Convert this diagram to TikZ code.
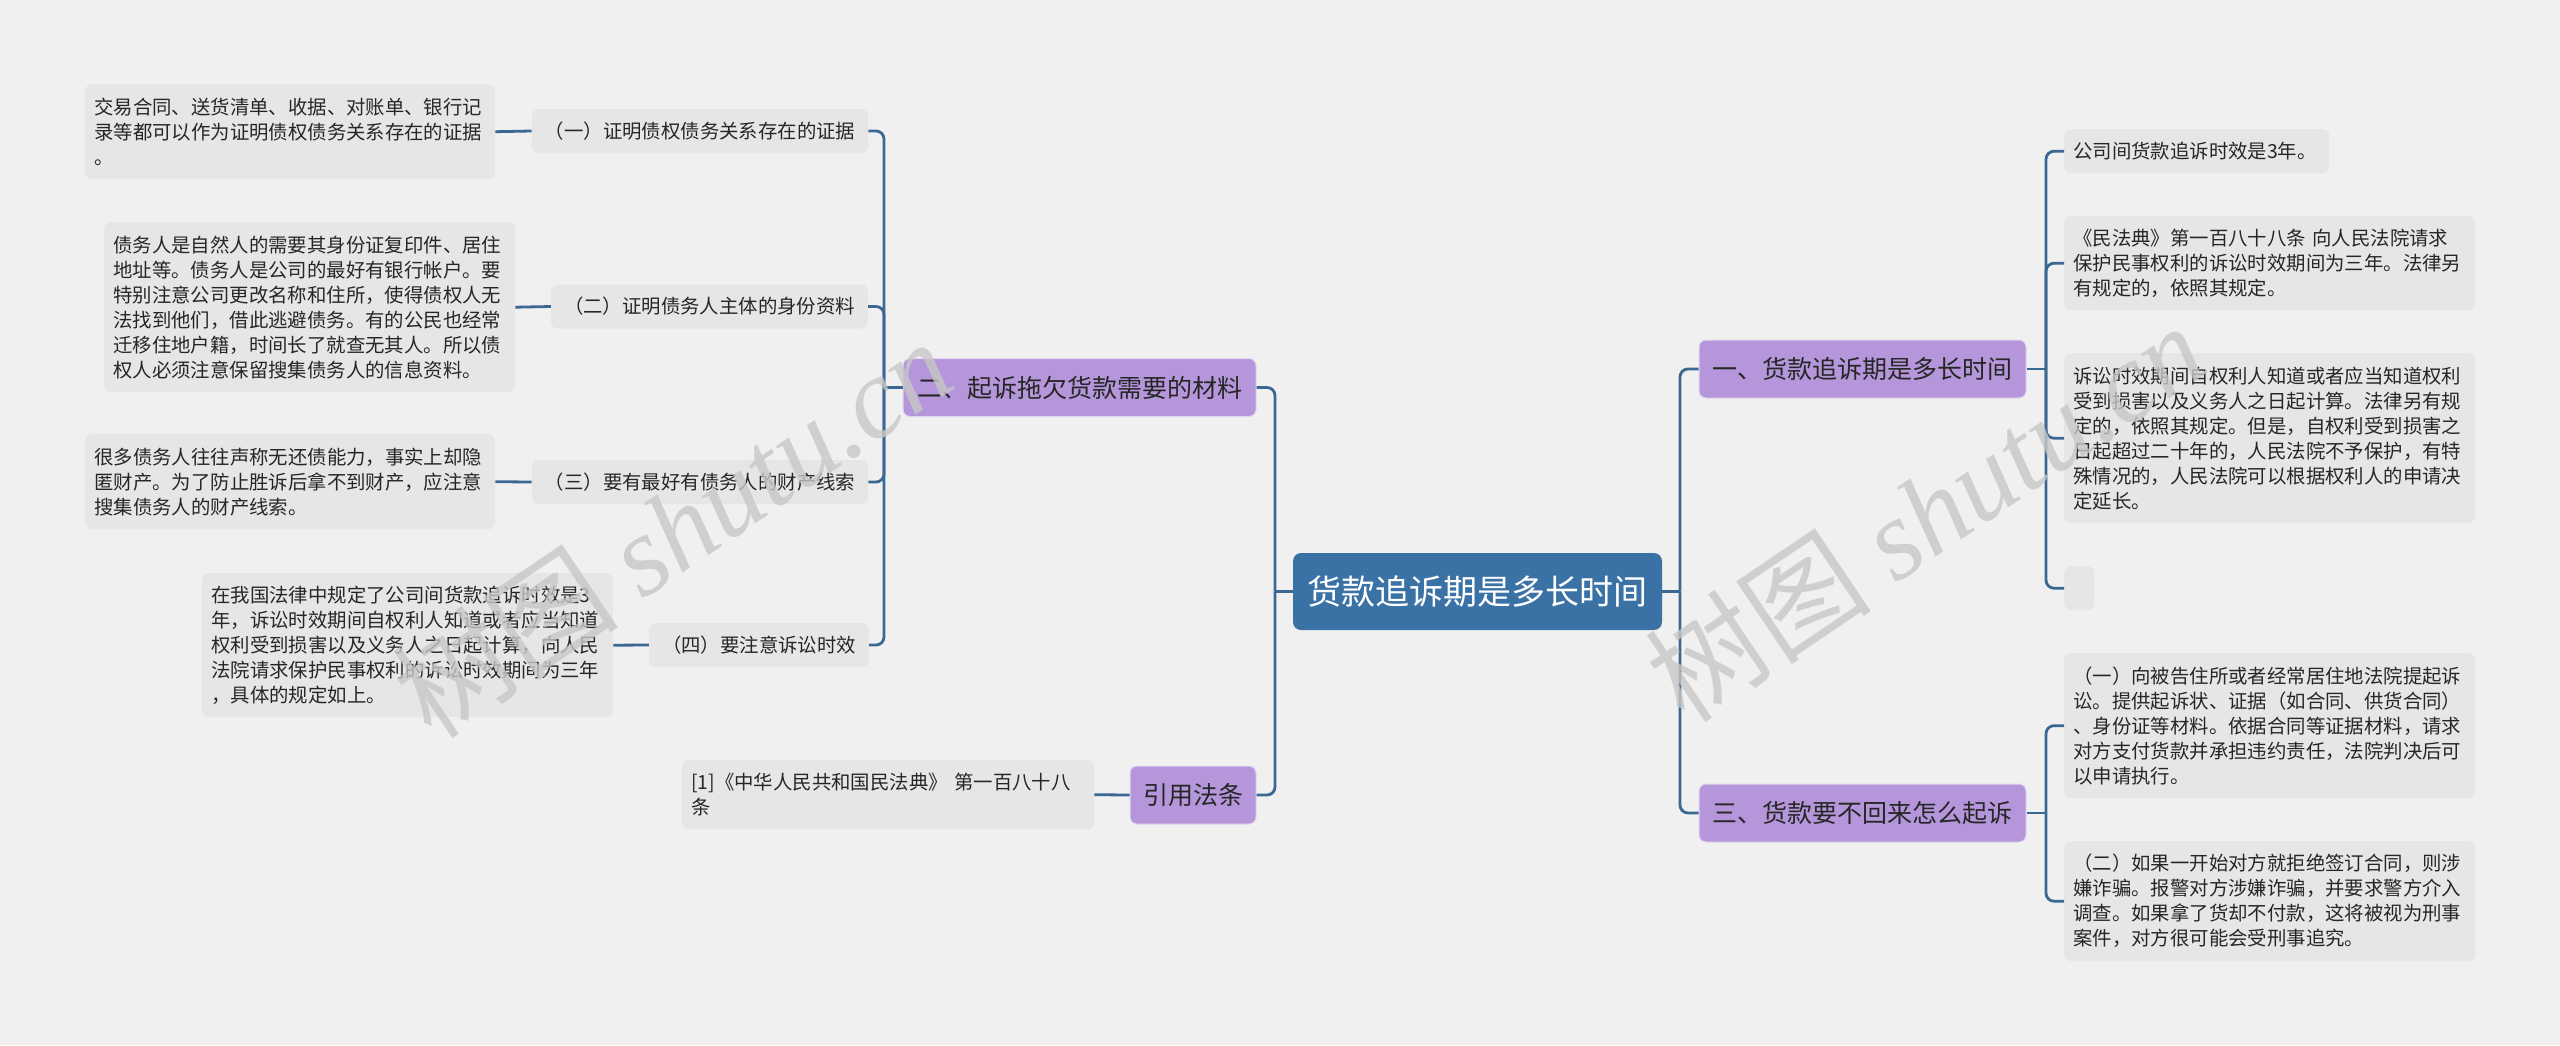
\documentclass[tikz,border=0pt]{standalone}
\usepackage{fontspec}
\setmainfont{Noto Sans CJK SC}
\newfontfamily\wmfont{Liberation Serif}
\definecolor{bgcol}{HTML}{F0F0F0}
\definecolor{rootcol}{HTML}{3B72A5}
\definecolor{branchcol}{HTML}{B596DA}
\definecolor{leafcol}{HTML}{E6E6E6}
\definecolor{linecol}{HTML}{3A6892}
\definecolor{inkcol}{HTML}{262626}
\begin{document}
\begin{tikzpicture}[x=1pt, y=-1pt,
        rootbox/.style={fill=rootcol, rounded corners=8pt, text=white, minimum width=369pt, minimum height=77pt, font=\fontsize{34pt}{40pt}\selectfont},
        branchbox/.style={fill=branchcol, draw=white!60!branchcol, line width=1pt, rounded corners=7pt, text=inkcol, minimum height=58pt, inner xsep=12pt, font=\fontsize{25pt}{30pt}\selectfont},
        itembox/.style={fill=leafcol, rounded corners=7pt, text=inkcol, minimum height=44pt, inner xsep=13pt, font=\fontsize{19.4pt}{25pt}\selectfont},
        leafbox/.style={fill=leafcol, rounded corners=7pt, text=inkcol, anchor=north west, align=left, inner xsep=9pt, inner ysep=0pt, font=\fontsize{19.4pt}{25pt}\selectfont},
        link/.style={draw=linecol, line width=2.8pt, rounded corners=8pt},
        wmark/.style={text=black!22, text opacity=0.8, rotate=34, font=\fontsize{114pt}{114pt}\selectfont}]
    \useasboundingbox (0,0) rectangle (2560,1045);
    \fill[bgcol] (0,0) rectangle (2560,1045);
    \node[rootbox] (root) at (1477.5,591.5) {货款追诉期是多长时间};
    \foreach \nm/\x/\y/\w/\txt in {b1/1862.5/369/327/{一、货款追诉期是多长时间}, b2/1079.5/387.5/353/{二、起诉拖欠货款需要的材料}, b3/1862.5/813/327/{三、货款要不回来怎么起诉}, bref/1193/795/126/{引用法条}}{
        \node[branchbox, minimum width=\w pt] (\nm) at (\x,\y) {\txt};
    }
    \foreach \nm/\x/\y/\w/\txt in {c1/700/131/332/{（一）证明债权债务关系存在的证据}, c2/709.5/306.5/313/{（二）证明债务人主体的身份资料}, c3/700/482/332/{（三）要有最好有债务人的财产线索}, c4/759/645/214/{（四）要注意诉讼时效}}{
        \node[itembox, minimum width=\w pt] (\nm) at (\x,\y) {\txt};
    }
    \foreach \nm/\x/\y/\w/\h/\txt in {
        l1/85/84/392/95/{交易合同、送货清单、收据、对账单、银行记\\录等都可以作为证明债权债务关系存在的证据\\。},
        l2/104/222/393/170/{债务人是自然人的需要其身份证复印件、居住\\地址等。债务人是公司的最好有银行帐户。要\\特别注意公司更改名称和住所，使得债权人无\\法找到他们，借此逃避债务。有的公民也经常\\迁移住地户籍，时间长了就查无其人。所以债\\权人必须注意保留搜集债务人的信息资料。},
        l3/85/434/392/95/{很多债务人往往声称无还债能力，事实上却隐\\匿财产。为了防止胜诉后拿不到财产，应注意\\搜集债务人的财产线索。},
        l4/202/573/393/144/{在我国法律中规定了公司间货款追诉时效是3\\年，诉讼时效期间自权利人知道或者应当知道\\权利受到损害以及义务人之日起计算，向人民\\法院请求保护民事权利的诉讼时效期间为三年\\，具体的规定如上。},
        lref/682/760/394/69/{[1]《中华人民共和国民法典》 第一百八十八\\条},
        r1/2064/129/247/44/{公司间货款追诉时效是3年。},
        r2/2064/216/393/94/{《民法典》第一百八十八条 向人民法院请求\\保护民事权利的诉讼时效期间为三年。法律另\\有规定的，依照其规定。},
        r3/2064/353/393/170/{诉讼时效期间自权利人知道或者应当知道权利\\受到损害以及义务人之日起计算。法律另有规\\定的，依照其规定。但是，自权利受到损害之\\日起超过二十年的，人民法院不予保护，有特\\殊情况的，人民法院可以根据权利人的申请决\\定延长。},
        r4/2064/566/12/44/{},
        r5/2064/653/393/145/{（一）向被告住所或者经常居住地法院提起诉\\讼。提供起诉状、证据（如合同、供货合同）\\、身份证等材料。依据合同等证据材料，请求\\对方支付货款并承担违约责任，法院判决后可\\以申请执行。},
        r6/2064/841/393/120/{（二）如果一开始对方就拒绝签订合同，则涉\\嫌诈骗。报警对方涉嫌诈骗，并要求警方介入\\调查。如果拿了货却不付款，这将被视为刑事\\案件，对方很可能会受刑事追究。}}{
        \node[leafbox, text width=\w pt, minimum height=\h pt] (\nm) at (\x,\y) {\txt};
    }
    \coordinate (jr) at (1680,591.5);
    \coordinate (jl) at (1275,591.5);
    \coordinate (j1) at (2046,369);
    \coordinate (j2) at (884,387.5);
    \coordinate (j3) at (2046,813);
    \draw[link] (root.east) -- (jr);
    \draw[link] (root.west) -- (jl);
    \draw[link] (b1.east) -- (j1);
    \draw[link] (b2.west) -- (j2);
    \draw[link] (b3.east) -- (j3);
    \foreach \b in {b1, b3}{\draw[link] (jr) |- (\b.west);}
    \foreach \b in {b2, bref}{\draw[link] (jl) |- (\b.east);}
    \foreach \r in {r1, r2, r3, r4}{\draw[link] (j1) |- (\r.west);}
    \foreach \r in {r5, r6}{\draw[link] (j3) |- (\r.west);}
    \foreach \c in {c1, c2, c3, c4}{\draw[link] (j2) |- (\c.east);}
    \foreach \c/\l in {c1/l1, c2/l2, c3/l3, c4/l4, bref/lref}{\draw[link] (\l.east) -- (\c.west);}
    \node[wmark] (wm1) at (672,528) {树图 {\wmfont\itshape shutu.cn}};
    \node[wmark] (wm2) at (1925,512) {树图 {\wmfont\itshape shutu.cn}};
\end{tikzpicture}
\end{document}
